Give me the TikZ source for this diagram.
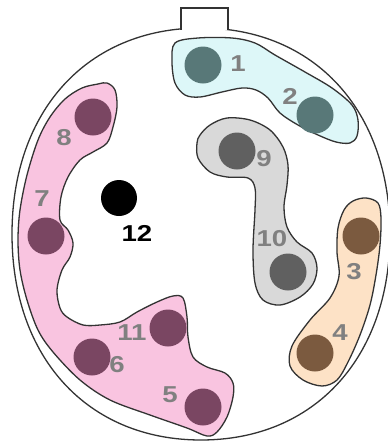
\documentclass[tikz,border=0pt]{standalone}
\usepackage{fontspec}
\setmainfont{Liberation Sans}
\newfontfamily\lblfont[FakeStretch=1.2]{Liberation Sans}
\definecolor{olc}{HTML}{333333}
\definecolor{cyanfill}{HTML}{DDF7F8}
\definecolor{grayfill}{HTML}{D9D9D9}
\definecolor{pinkfill}{HTML}{F9C4E0}
\definecolor{peachfill}{HTML}{FDE2C6}
\definecolor{tealdot}{HTML}{587878}
\definecolor{graydot}{HTML}{606060}
\definecolor{maroondot}{HTML}{7A4662}
\definecolor{browndot}{HTML}{7B5A3F}
\definecolor{labelgray}{HTML}{808080}
\tikzset{
  outl/.style={draw=olc, line width=1.3pt},
  dotc/.style={circle, minimum size=37pt, inner sep=0pt, draw=none},
  lbl/.style={text=labelgray, font=\lblfont\fontsize{23}{23}\selectfont\bfseries, inner sep=0pt},
}
\begin{document}
\begin{tikzpicture}[x=1pt,y=-1pt]
\useasboundingbox (0,0) rectangle (388,445);
\begin{scope}
\clip (0,0) rectangle (388,445);
% outer circle
\draw[outl, fill=white] (201,28) .. controls (314.4,28) and (390,110.4) .. (390,234)
  .. controls (390,357.6) and (314.4,440) .. (201,440)
  .. controls (87.6,440) and (12,357.6) .. (12,234)
  .. controls (12,110.4) and (87.6,28) .. (201,28) -- cycle;
\end{scope}
% tab
\draw[outl, fill=white] (181,29.5) -- (181,8) -- (228,8) -- (228,29.5);
% cyan region
\draw[outl, fill=cyanfill] plot[smooth cycle, tension=0.55] coordinates {
 (175,43) (198,38) (232,38) (255,43) (275,55) (305,72) (332,88) (352,105)
 (358,120) (357,136) (350,143) (336,142) (318,135) (298,125) (280,113)
 (268,98) (256,90) (242,88) (222,92) (200,97) (185,95) (175,83) (172,62)};
% gray region
\draw[outl, fill=grayfill] plot[smooth cycle, tension=0.55] coordinates {
 (200,135) (210,125) (227,118) (250,120) (270,130) (283,147) (288,165)
 (287,185) (284,207) (287,227) (297,242) (312,253) (317,268) (313,284)
 (300,297) (280,305) (263,300) (255,283) (253,250) (255,210) (255,188)
 (248,178) (227,177) (210,172) (198,158) (197,143)};
% peach region
\draw[outl, fill=peachfill] plot[smooth cycle, tension=0.55] coordinates {
 (353,201) (366,198) (378,203) (381,218) (380,245) (376,275) (370,305)
 (360,335) (348,362) (337,380) (322,386) (303,380) (290,366) (292,346)
 (310,320) (330,298) (339,276) (337,252) (338,228) (344,210)};
% pink region
\draw[outl, fill=pinkfill] plot[smooth cycle, tension=0.55] coordinates {
 (98,84) (107,83) (115,90) (117,107) (113,127) (107,143) (93,152) (80,160)
 (68,177) (61,197) (60,220) (68,230) (73,243) (70,257) (62,270) (57,290)
 (60,308) (67,317) (83,325) (100,325) (120,322) (137,312) (157,302)
 (173,296) (183,298) (187,317) (188,337) (193,357) (207,367) (225,373)
 (233,383) (233,397) (227,417) (217,432) (207,436) (187,428) (150,415)
 (110,400) (80,380) (53,352) (38,330) (27,300) (20,270) (18,240) (20,210)
 (27,175) (38,140) (50,117) (65,99) (82,88)};
% dots
\node[dotc, fill=tealdot] (d1) at (203,65) {};
\node[dotc, fill=tealdot] (d2) at (315,115) {};
\node[dotc, fill=graydot] (d9) at (237,151) {};
\node[dotc, fill=graydot] (d10) at (288,272) {};
\node[dotc, fill=maroondot] (d8) at (93,117) {};
\node[dotc, fill=maroondot] (d7) at (46,236) {};
\node[dotc, fill=maroondot] (d11) at (168,328) {};
\node[dotc, fill=maroondot] (d6) at (92,357) {};
\node[dotc, fill=maroondot] (d5) at (203,407) {};
\node[dotc, fill=browndot] (d3) at (361,236) {};
\node[dotc, fill=browndot] (d4) at (315,353) {};
\node[dotc, fill=black, minimum size=36pt] (d12) at (119,198) {};
% labels
\node[lbl] (l1) at (238,64) {1};
\node[lbl] (l2) at (290,96) {2};
\node[lbl] (l9) at (264,159) {9};
\node[lbl] (l10) at (272,239) {10};
\node[lbl] (l8) at (64,138) {8};
\node[lbl] (l7) at (42,199) {7};
\node[lbl, text=black] (l12) at (137,233) {12};
\node[lbl] (l3) at (354,272) {3};
\node[lbl] (l4) at (340,333) {4};
\node[lbl] (l11) at (132,333) {11};
\node[lbl] (l6) at (117,365) {6};
\node[lbl] (l5) at (170,395) {5};
\end{tikzpicture}
\end{document}
